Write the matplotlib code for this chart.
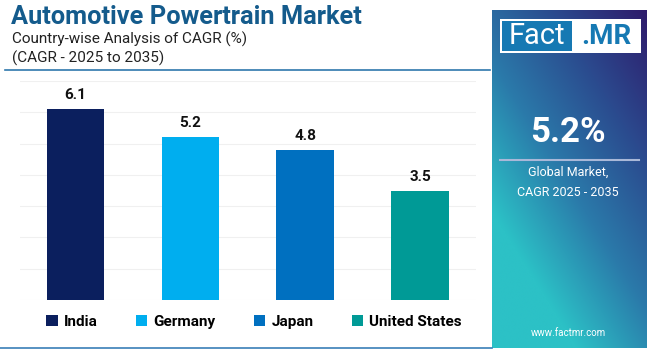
import matplotlib.pyplot as plt
import numpy as np
from matplotlib.patches import Rectangle, Patch
from matplotlib.colors import LinearSegmentedColormap

plt.rcParams['font.family'] = ['Roboto', 'DejaVu Sans']

# --- data ---
countries = ["India", "Germany", "Japan", "United States"]
cagr = [6.1, 5.2, 4.8, 3.5]
bar_colors = ["#0b1f5e", "#00aeef", "#0070c0", "#009a96"]

title = "Automotive Powertrain Market"
subtitle1 = "Country-wise Analysis of CAGR (%)"
subtitle2 = "(CAGR - 2025 to 2035)"
global_value = "5.2%"
global_label = "Global Market,\nCAGR 2025 - 2035"

W, H = 650, 350
fig = plt.figure(figsize=(W / 100, H / 100), dpi=100)
fig.patch.set_facecolor("white")


def fx(px):
    return px / W


def fy(py):
    return 1 - py / H


# --- bar chart ---
ax = fig.add_axes([fx(20), fy(300), fx(476) - fx(20), fy(81) - fy(300)])
x = np.arange(len(countries))
ax.bar(x, cagr, width=0.5, color=bar_colors, zorder=3)
ax.set_xlim(-0.483, 3.487)
ax.set_ylim(0, 7)
ax.set_yticks(np.arange(0, 8, 1))
ax.grid(axis="y", color="#f0f0f0", linewidth=0.8, zorder=0)
ax.tick_params(left=False, bottom=False, labelleft=False, labelbottom=False)
for s in ax.spines.values():
    s.set_visible(False)
for i, v in enumerate(cagr):
    ax.annotate(f"{v}", (i, v), xytext=(0, 5), textcoords="offset points",
                ha="center", va="bottom", fontsize=11, fontweight="bold",
                color="#111111")

# --- header ---
fig.text(fx(11), fy(17), title, fontsize=18.3, fontweight="bold",
         color="#145b8c", va="center", ha="left")
fig.text(fx(12), fy(39), subtitle1, fontsize=11, color="#222222",
         va="center", ha="left")
fig.text(fx(12), fy(58), subtitle2, fontsize=11, color="#222222",
         va="center", ha="left")
fig.add_artist(plt.Line2D([fx(5), fx(490)], [fy(69.5), fy(69.5)],
                          color="#2f78ad", linewidth=1.2))
fig.add_artist(plt.Line2D([fx(0), fx(492)], [fy(348), fy(348)],
                          color="#3a7fb8", linewidth=1.2))

# --- legend ---
handles = [Patch(facecolor=c, edgecolor="none", label=n)
           for n, c in zip(countries, bar_colors)]
fig.legend(handles=handles, ncol=4, loc="center",
           bbox_to_anchor=(fx(254), fy(322)), frameon=False,
           handlelength=0.75, handleheight=0.75, handletextpad=0.4,
           columnspacing=2.5, prop={"weight": "bold", "size": 11})

# --- right panel with gradient ---
pax = fig.add_axes([fx(492), fy(348), fx(647) - fx(492), fy(10) - fy(348)])
pax.set_axis_off()
gx, gy = np.meshgrid(np.linspace(0, 1, 200), np.linspace(0, 1, 400))
t = np.clip(0.55 * (1 - gx) + 0.75 * gy, 0, 1)
cmap = LinearSegmentedColormap.from_list(
    "panel", ["#2e1b6b", "#2b4a8e", "#2a7aaa", "#2cc1c6"])
pax.imshow(t, cmap=cmap, aspect="auto", extent=[0, 1, 0, 1],
           origin="upper", vmin=0, vmax=1)
pax.set_xlim(0, 1)
pax.set_ylim(0, 1)

# logo
fig.add_artist(Rectangle((fx(500), fy(53)), fx(641) - fx(500), fy(19) - fy(53),
                         transform=fig.transFigure, facecolor="white",
                         edgecolor="none"))
fig.add_artist(Rectangle((fx(502), fy(51)), fx(572) - fx(502), fy(21) - fy(51),
                         transform=fig.transFigure, facecolor="#1679b3",
                         edgecolor="none"))
fig.text(fx(537), fy(36.5), "Fact", fontsize=21, color="white",
         ha="center", va="center")
fig.text(fx(606), fy(36.5), ".MR", fontsize=20, color="#1679b3",
         fontweight="bold", ha="center", va="center")

fig.text(fx(568), fy(133), global_value, fontsize=25, fontweight="bold",
         color="white", ha="center", va="center")
fig.add_artist(plt.Line2D([fx(500), fx(639)], [fy(160), fy(160)],
                          color="#a9b8d8", linewidth=1.5))
fig.text(fx(568), fy(182), global_label, fontsize=9, color="white",
         ha="center", va="center", linespacing=1.7)
fig.text(fx(568), fy(333), "www.factmr.com", fontsize=7, color="white",
         ha="center", va="center")

fig.savefig("out.png", dpi=100, facecolor=fig.get_facecolor())
